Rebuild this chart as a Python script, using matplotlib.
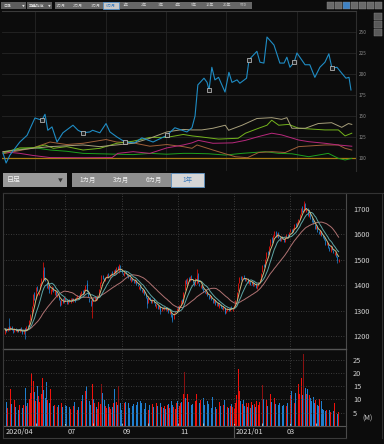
import matplotlib
matplotlib.use("Agg")
import matplotlib.pyplot as plt
import pandas as pd
from matplotlib.patches import Rectangle
from matplotlib.lines import Line2D

plt.rcParams['font.family'] = ['Noto Sans CJK JP', 'DejaVu Sans']

# ---------------- comparison chart (top), 6 months, index = 100 ----------------
blue_t = [0, 1.1, 2.5, 6, 8.6, 11.4, 13.9, 15, 16, 17.5, 19.3, 21.4, 25, 26.8, 28.6, 31, 32, 34.6,
          36.8, 38.2, 40.7, 43.6, 47, 49.6, 53.6, 58.6, 61.4, 65.7, 67.5, 68.6, 69.6, 71.8, 72.9,
          73.6, 74.6, 75.7, 77, 79.3, 80.7, 81.8, 83.6, 84.6, 87, 87.9, 90.7, 91.8, 93.2, 94.3,
          96.8, 98.9, 100.4, 101.4, 102.5, 104, 105, 107.9, 109.6, 111.4, 113.2, 115, 116.4,
          117.5, 119.3, 121, 122.5, 123.6, 124.3]
blue_v = [106, 94, 103.6, 119, 127, 147.6, 145, 152, 133, 137, 119, 130, 139, 133, 130, 131, 133, 130,
          141, 131, 125, 119, 118, 124, 119, 127, 136, 131, 136, 150, 187, 195, 190,
          181, 208, 193, 196, 178.5, 202, 190, 193, 189, 195, 217, 227, 214, 213, 244,
          234.5, 213, 213, 220, 208, 214, 225, 211, 211, 196, 208, 214, 224,
          207, 208, 201, 195, 196, 181]
blue_marks = [6, 14, 21, 25, 33, 43, 53, 61]

khaki_t = [0, 10.7, 16.8, 28.6, 34.6, 46.5, 52.5, 58.5, 64.4, 67.5, 71, 75, 79.4, 80.6, 85.4, 90.7,
           96, 99.5, 101.4, 103.2, 108, 112.6, 117.4, 121, 123.4, 124.6]
khaki_v = [107.5, 111.5, 113.5, 115.5, 113.5, 117.5, 123.5, 131, 134, 133.4, 133.4, 135.4, 139, 133,
           139, 147, 148, 146, 148, 135.4, 135.4, 141, 142, 136.5, 141, 140]

lime_t = [0, 6, 10.7, 15, 18, 22.7, 28.6, 34.6, 40.6, 46.5, 52.5, 58.5, 64.4, 67.5, 71, 77, 84,
          86.6, 91.3, 94.3, 96, 98.5, 102, 105.6, 115, 119.8, 122.2, 124.6]
lime_v = [106, 112, 112, 115.5, 111.5, 113.5, 109.5, 111.5, 117.5, 120, 124.5, 124.5, 128, 126.3,
          125, 122.5, 123.5, 129.5, 135.4, 139, 145, 139, 140, 135.4, 133.4, 133.4, 126.3, 129.5]

magenta_t = [0, 6, 10.7, 16.8, 28.6, 39, 41, 46.5, 52.5, 58.5, 64.4, 67.5, 69.8, 75, 82, 86.6,
             91.3, 96, 99.5, 105.6, 109.2, 115, 119.8, 124.6]
magenta_v = [107.5, 105.5, 103, 100.5, 100.3, 100.5, 105.5, 107.5, 105.5, 112, 115.5, 118, 121,
             117.5, 118, 121, 125.5, 129.5, 127.5, 121.4, 119.4, 117.5, 115.5, 114]

brown_t = [0, 10.7, 16.8, 22.7, 28.6, 36.8, 40.6, 46.5, 52.5, 58.5, 64.4, 67.5, 69.3, 75, 79.4,
           83, 87.3, 91.3, 96, 100.8, 105.6, 115, 119.8, 122.2, 124.6]
brown_v = [105, 112, 119, 116, 117.5, 122, 119, 118, 114, 116, 113.5, 111.5, 115.5, 109.5, 105,
           101.5, 100.3, 106.5, 107.5, 106.5, 113.5, 115.5, 115.5, 111.5, 109.5]

green_t = [0, 4, 10.7, 16.8, 22.7, 28.6, 34.6, 40.6, 46.5, 52.5, 58.5, 64.4, 67.5, 73.5, 79.4,
           85.4, 93.7, 98.5, 103.2, 109.2, 116.2, 119.8, 122.2, 124.6]
green_v = [107.5, 109.5, 112.5, 109.5, 108, 105.5, 105, 104.5, 104, 105.5, 104.5, 105.5, 105.5,
           105, 103.5, 105.5, 107.5, 105.5, 105, 101.5, 105.5, 99.6, 97.6, 99.6]

top_month_t = [11.6, 36.7, 58.2, 79.5, 105.2]
top_ticks = [100, 125, 150, 175, 200, 225, 250]

# ---------------- daily candles (1 year) ----------------
close = [1228, 1215, 1236, 1222, 1240, 1225, 1212, 1230, 1218, 1226,
         1214, 1232, 1220, 1208, 1225, 1218, 1238, 1235, 1262, 1288,
         1320, 1365, 1340, 1392, 1378, 1372, 1410, 1428, 1460, 1425,
         1415, 1390, 1402, 1370, 1385, 1395, 1372, 1380, 1358, 1366,
         1340, 1318, 1345, 1330, 1352, 1336, 1325, 1342, 1335, 1350,
         1338, 1348, 1335, 1352, 1360, 1345, 1368, 1378, 1362, 1385,
         1400, 1378, 1352, 1335, 1320, 1345, 1338, 1352, 1340, 1360,
         1385, 1412, 1440, 1425, 1418, 1432, 1445, 1430, 1438, 1450,
         1442, 1458, 1448, 1470, 1462, 1478, 1455, 1448, 1440, 1452,
         1445, 1438, 1430, 1420, 1432, 1415, 1408, 1425, 1402, 1395,
         1398, 1380, 1372, 1385, 1360, 1348, 1325, 1352, 1340, 1332,
         1345, 1330, 1318, 1325, 1308, 1320, 1298, 1312, 1305, 1316,
         1302, 1310, 1290, 1298, 1275, 1265, 1290, 1300, 1312, 1305,
         1322, 1340, 1335, 1372, 1420, 1405, 1430, 1418, 1435, 1422,
         1410, 1398, 1430, 1442, 1408, 1395, 1402, 1385, 1372, 1368,
         1375, 1358, 1346, 1360, 1340, 1332, 1345, 1322, 1330, 1318,
         1325, 1312, 1305, 1318, 1292, 1302, 1310, 1298, 1315, 1305,
         1312, 1322, 1340, 1375, 1410, 1432, 1420, 1438, 1425, 1418,
         1428, 1410, 1420, 1402, 1415, 1398, 1405, 1390, 1400, 1412,
         1425, 1450, 1478, 1470, 1505, 1530, 1520, 1555, 1580, 1565,
         1598, 1612, 1590, 1605, 1585, 1575, 1592, 1580, 1570, 1588,
         1600, 1585, 1610, 1620, 1605, 1625, 1640, 1630, 1648, 1662,
         1680, 1705, 1690, 1720, 1695, 1700, 1672, 1685, 1660, 1650,
         1640, 1622, 1635, 1610, 1600, 1618, 1592, 1585, 1578, 1560,
         1572, 1545, 1535, 1560, 1540, 1525, 1530, 1510, 1498, 1505]
open_ = [1210, 1232, 1218, 1238, 1222, 1241, 1228, 1214, 1232, 1215,
         1228, 1216, 1234, 1222, 1210, 1230, 1220, 1245, 1240, 1265,
         1285, 1320, 1375, 1345, 1398, 1360, 1385, 1405, 1420, 1470,
         1430, 1412, 1384, 1398, 1365, 1378, 1392, 1360, 1378, 1352,
         1358, 1342, 1322, 1348, 1332, 1350, 1340, 1328, 1345, 1332,
         1350, 1335, 1350, 1340, 1348, 1362, 1350, 1365, 1380, 1365,
         1382, 1410, 1380, 1350, 1340, 1325, 1350, 1336, 1355, 1342,
         1362, 1388, 1410, 1442, 1430, 1415, 1428, 1448, 1428, 1436,
         1455, 1440, 1462, 1446, 1474, 1460, 1480, 1458, 1450, 1438,
         1455, 1446, 1440, 1432, 1414, 1430, 1420, 1408, 1422, 1405,
         1385, 1400, 1385, 1370, 1382, 1365, 1350, 1330, 1355, 1345,
         1330, 1348, 1332, 1312, 1322, 1305, 1318, 1300, 1315, 1302,
         1315, 1298, 1308, 1285, 1295, 1282, 1268, 1292, 1298, 1318,
         1300, 1318, 1345, 1330, 1380, 1425, 1402, 1432, 1415, 1440,
         1425, 1412, 1400, 1410, 1448, 1410, 1390, 1400, 1388, 1378,
         1365, 1375, 1360, 1348, 1358, 1345, 1332, 1340, 1320, 1335,
         1312, 1328, 1315, 1302, 1312, 1290, 1300, 1312, 1300, 1318,
         1300, 1310, 1320, 1342, 1378, 1408, 1435, 1418, 1440, 1428,
         1415, 1430, 1405, 1418, 1400, 1418, 1395, 1408, 1385, 1398,
         1410, 1425, 1452, 1482, 1472, 1505, 1535, 1522, 1555, 1590,
         1570, 1595, 1615, 1588, 1608, 1590, 1575, 1595, 1585, 1572,
         1585, 1602, 1590, 1608, 1622, 1608, 1622, 1645, 1632, 1645,
         1660, 1682, 1712, 1692, 1725, 1690, 1702, 1668, 1688, 1668,
         1655, 1642, 1620, 1638, 1615, 1598, 1615, 1598, 1590, 1582,
         1558, 1568, 1550, 1532, 1555, 1540, 1518, 1528, 1515, 1492]
# long shadows that stand out in the picture
wick_days = [3, 15, 28, 61, 65, 85, 106, 116, 125, 143, 164, 223, 248]
wick_lo = [1225, 1188, 1418, 1372, 1270, 1450, 1310, 1288, 1255, 1405, 1288, 1688, 1488]
wick_hi = [1272, 1232, 1490, 1422, 1350, 1482, 1352, 1320, 1285, 1462, 1315, 1732, 1505]

volume = [7.5, 9.2, 6.8, 10.5, 14.0, 8.2, 6.5, 9.8, 7.2, 8.5,
          6.2, 7.8, 9.5, 6.8, 8.0, 14.4, 7.5, 8.8, 10.2, 12.5,
          20.0, 17.0, 12.8, 9.5, 15.0, 11.2, 9.0, 12.0, 18.0, 13.5,
          10.5, 16.5, 9.8, 8.5, 14.0, 9.2, 7.5, 8.0, 6.8, 7.2,
          7.8, 6.5, 8.5, 7.0, 6.2, 8.0, 7.5, 6.8, 7.2, 6.5,
          6.8, 7.5, 9.0, 8.5, 6.2, 7.0, 8.8, 9.5, 11.8, 12.5,
          13.2, 15.0, 12.0, 9.5, 8.0, 15.8, 10.2, 8.5, 7.0, 6.5,
          9.0, 8.2, 15.8, 12.5, 9.8, 7.5, 6.8, 8.2, 7.0, 6.5,
          7.2, 8.5, 14.0, 9.0, 7.8, 15.0, 8.5, 6.2, 7.5, 8.8,
          9.2, 7.0, 8.5, 6.8, 9.8, 7.5, 8.2, 6.5, 7.8, 9.0,
          8.0, 9.5, 8.8, 7.2, 6.5, 8.5, 7.0, 6.2, 7.8, 6.5,
          8.2, 7.0, 6.5, 8.8, 7.5, 6.0, 8.5, 7.2, 6.8, 7.5,
          6.5, 7.8, 8.2, 6.8, 9.5, 8.0, 7.2, 6.5, 8.8, 9.5,
          7.5, 8.5, 9.2, 12.0, 20.5, 10.5, 12.2, 9.0, 8.5, 7.8,
          8.2, 7.0, 9.5, 12.0, 7.5, 8.8, 9.8, 15.2, 10.5, 8.0,
          7.5, 9.5, 8.2, 7.2, 6.8, 10.8, 8.5, 7.0, 6.5, 7.8,
          9.2, 7.5, 6.5, 8.0, 9.8, 5.8, 7.2, 6.8, 7.5, 8.2,
          7.0, 6.5, 8.5, 11.5, 21.5, 13.0, 9.5, 8.2, 9.8, 7.5,
          8.8, 7.2, 8.5, 6.8, 9.0, 7.8, 8.2, 7.0, 9.5, 8.0,
          9.2, 11.0, 15.5, 10.0, 8.5, 9.8, 7.5, 8.8, 12.0, 9.0,
          17.0, 10.5, 8.2, 9.5, 7.8, 8.5, 9.2, 7.5, 8.0, 6.8,
          7.5, 8.8, 9.0, 11.5, 13.2, 10.0, 8.5, 12.5, 10.2, 15.7,
          12.0, 18.0, 11.5, 27.0, 14.5, 12.0, 14.0, 11.8, 10.5, 9.5,
          11.0, 8.5, 9.8, 8.0, 7.5, 10.0, 9.5, 6.5, 6.0, 5.8,
          6.2, 5.5, 6.0, 5.2, 4.8, 5.5, 8.5, 5.0, 4.5, 5.2]
dark_days = [61, 72, 82, 85, 134, 192, 223]

month_days = [23, 45, 66, 87, 107, 129, 148, 171, 192, 213, 232]
grid_days = [45, 87, 129, 171, 213]
date_labels = ['2020/04', '07', '09', '11', '2021/01', '03']
date_label_px = [6, 68, 123, 180, 236, 287]
price_ticks = [1200, 1300, 1400, 1500, 1600, 1700]
vol_ticks = [5, 10, 15, 20, 25]

BG = '#0c0c0c'
LINE = '#3a3a3a'
UP = '#f0120c'
DOWN = '#1f7fcf'
W, H = 384, 444

fig = plt.figure(figsize=(W / 100, H / 100), dpi=100, facecolor=BG)


def box(x0, y0, x1, y1):
    """pixel box -> figure fraction rect"""
    return [x0 / W, 1 - y1 / H, (x1 - x0) / W, (y1 - y0) / H]


def rect(x0, y0, x1, y1, fc, ec='none', lw=0.5):
    fig.add_artist(Rectangle((x0 / W, 1 - y1 / H), (x1 - x0) / W, (y1 - y0) / H,
                             transform=fig.transFigure, fc=fc, ec=ec, lw=lw))


def hline(x0, x1, y, color=LINE, lw=0.8):
    fig.add_artist(Line2D([x0 / W, x1 / W], [1 - y / H, 1 - y / H], transform=fig.transFigure,
                          color=color, lw=lw))


def vline(x, y0, y1, color=LINE, lw=0.8):
    fig.add_artist(Line2D([x / W, x / W], [1 - y0 / H, 1 - y1 / H], transform=fig.transFigure,
                          color=color, lw=lw))


def txt(x, y, s, size, color, ha='left'):
    fig.text(x / W, 1 - y / H, s, fontsize=size, color=color, ha=ha, va='center')


# ---------------- top toolbar ----------------
rect(1, 2, 26, 9, '#5c5c5c')
txt(3, 5.5, '日足', 2.8, '#dddddd')
txt(23, 5.5, '▼', 2.0, '#dddddd', ha='center')
rect(27, 2, 52, 9, '#5c5c5c')
txt(29, 5.5, '業種指定', 2.8, '#dddddd')
txt(49, 5.5, '▼', 2.0, '#dddddd', ha='center')
rect(55, 2, 252, 9, '#666666')
periods = ['1カ月', '2カ月', '3カ月', '6カ月', '1年', '2年', '3年', '4年', '5年', '10年', '20年', 'YTD']
period_px = [61, 78, 96, 111, 126, 144, 161, 178, 194, 210, 227, 244]
for lab, px in zip(periods, period_px):
    if lab == '6カ月':
        rect(103, 2, 119, 9, '#c8c8c8', ec='#4a90d0')
        txt(px, 5.5, lab, 2.8, '#3a7cc0', ha='center')
    else:
        txt(px, 5.5, lab, 2.8, '#cfcfcf', ha='center')
for i, x0 in enumerate([327, 335, 343, 351, 359, 367, 375]):
    rect(x0, 2, x0 + 7, 9, '#3f82c4' if i == 2 else '#6a6a6a', ec='#888888', lw=0.3)
for y0 in [13, 21, 29]:
    rect(374, y0, 382, y0 + 7, '#5a5a5a', ec='#8a8a8a', lw=0.3)

# ---------------- top comparison chart ----------------
ax0 = fig.add_axes(box(2, 11, 356, 171), facecolor=BG)
ax0.set_xlim(-0.36, 126.1)
ax0.set_ylim(84.5, 275)
for t in top_month_t:
    ax0.axvline(t, color='#262626', lw=0.6)
for v in top_ticks[1:]:
    ax0.axhline(v, color='#262626', lw=0.6)
ax0.axhline(100, color='#a87c14', lw=0.9)
ax0.plot(green_t, green_v, color='#1ea01e', lw=0.7)
ax0.plot(brown_t, brown_v, color='#a0603a', lw=0.7)
ax0.plot(magenta_t, magenta_v, color='#b8287c', lw=0.7)
ax0.plot(lime_t, lime_v, color='#74b41c', lw=0.7)
ax0.plot(khaki_t, khaki_v, color='#a8a07c', lw=0.7)
ax0.plot(blue_t, blue_v, color='#1f8cc4', lw=0.8, marker='s', markevery=blue_marks,
         ms=2.4, mfc='#222222', mec='#d0d0d0', mew=0.5)
ax0.set_xticks([])
ax0.yaxis.tick_right()
ax0.set_yticks(top_ticks)
ax0.tick_params(axis='y', length=0, pad=2, labelsize=3.4, labelcolor='#8c8c8c')
for s in ['left', 'bottom']:
    ax0.spines[s].set_visible(False)
ax0.spines['top'].set_color(LINE)
ax0.spines['right'].set_color('#2e2e2e')

# ---------------- middle toolbar ----------------
rect(3, 173, 67, 187, '#9a9a9a')
txt(7, 180, '日足', 5, '#f4f4f4')
txt(60, 180, '▼', 3.5, '#333333', ha='center')
rect(72, 173, 204, 187, '#8e8e8e')
for lab, px in zip(['1カ月', '3カ月', '6カ月'], [88, 121, 154]):
    txt(px, 180, lab, 4.6, '#f0f0f0', ha='center')
rect(171, 173, 204, 187, '#d6d6d6', ec='#5a8fc0', lw=0.6)
txt(187, 180, '1年', 4.6, '#3b7bbd', ha='center')

# ---------------- price chart ----------------
days = list(range(len(close)))
ma5 = pd.Series(close).rolling(5, min_periods=1).mean()
ma10 = pd.Series(close).rolling(10, min_periods=1).mean()
ma25 = pd.Series(close).rolling(25, min_periods=1).mean()
up = [c >= o for c, o in zip(close, open_)]
ccol = [UP if u else DOWN for u in up]

ax1 = fig.add_axes(box(3, 193, 346, 349), facecolor=BG)
ax1.set_xlim(-1.5, 254.5)
ax1.set_ylim(1149, 1763)
for v in price_ticks:
    ax1.axhline(v, color='#4a4a4a', lw=0.6, ls=(0, (1, 2)))
for d in grid_days:
    ax1.axvline(d, color='#4a4a4a', lw=0.6, ls=(0, (1, 2)))
ax1.vlines(wick_days, wick_lo, wick_hi, colors=[ccol[d] for d in wick_days], lw=0.5)
ax1.vlines(days, [min(c, o) for c, o in zip(close, open_)], [max(c, o) for c, o in zip(close, open_)],
           colors=ccol, lw=0.6)
ax1.plot(days, ma25, color='#b07272', lw=0.7)
ax1.plot(days, ma10, color='#5fa6a6', lw=0.7)
ax1.plot(days, ma5, color='#c8bb80', lw=0.7)
ax1.set_xticks([])
ax1.yaxis.tick_right()
ax1.set_yticks(price_ticks)
ax1.tick_params(axis='y', length=0, pad=5, labelsize=5.3, labelcolor='#d2d2d2')
ax1.spines['left'].set_visible(False)
ax1.spines['bottom'].set_visible(False)
ax1.spines['top'].set_color(LINE)
ax1.spines['right'].set_color('#4a4a4a')

# ---------------- volume ----------------
ax2 = fig.add_axes(box(3, 349, 346, 426), facecolor=BG)
ax2.set_xlim(-1.5, 254.5)
ax2.set_ylim(0, 29)
for v in vol_ticks:
    ax2.axhline(v, color='#4a4a4a', lw=0.6, ls=(0, (1, 2)))
for d in grid_days:
    ax2.axvline(d, color='#4a4a4a', lw=0.6, ls=(0, (1, 2)))
vcol = [('#8a1010' if d in dark_days else UP) if u else DOWN for d, u in zip(days, up)]
ax2.bar(days, volume, width=0.6, color=vcol, lw=0)
ax2.set_xticks(month_days)
ax2.set_xticklabels([])
ax2.tick_params(axis='x', length=2, width=0.6, color='#cccccc', direction='in')
ax2.yaxis.tick_right()
ax2.set_yticks(vol_ticks)
ax2.tick_params(axis='y', length=0, pad=5, labelsize=5.3, labelcolor='#d2d2d2')
ax2.spines['left'].set_visible(False)
ax2.spines['top'].set_color('#555555')
ax2.spines['top'].set_linewidth(1.0)
ax2.spines['right'].set_color('#4a4a4a')
ax2.spines['bottom'].set_color('#555555')
txt(362, 419, '(M)', 5, '#d2d2d2')

for lab, px in zip(date_labels, date_label_px):
    txt(px, 432, lab, 5.3, '#d8d8d8')

# frame lines
vline(3, 193, 438, '#3a3a3a')
vline(346, 426, 438, '#4a4a4a')
vline(234, 426, 438, '#555555')
vline(382, 193, 438, '#2e2e2e')
hline(3, 346, 438, '#3a3a3a')
hline(3, 384, 193, '#333333')

fig.savefig('out.png', dpi=100, facecolor=BG)
